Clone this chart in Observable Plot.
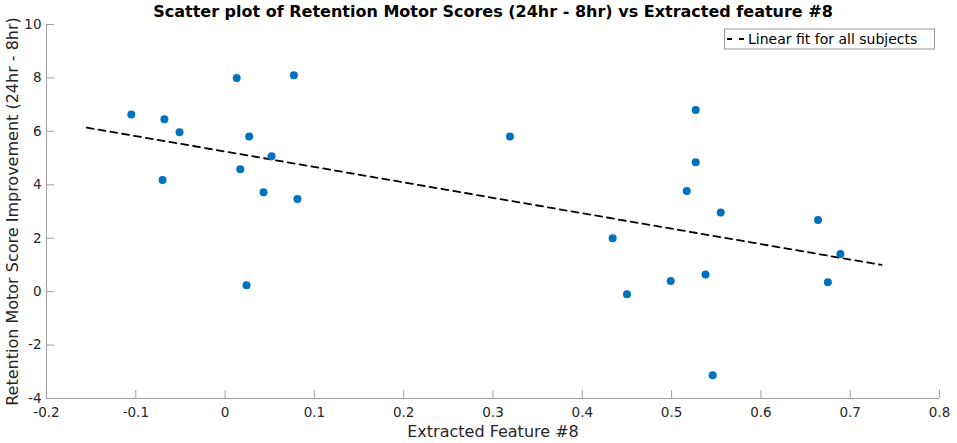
<!DOCTYPE html>
<html>
<head>
<meta charset="utf-8">
<script src="https://cdn.jsdelivr.net/npm/d3@7"></script>
<script src="https://cdn.jsdelivr.net/npm/@observablehq/plot@0.6"></script>
<style>
  html, body { margin: 0; padding: 0; background: #fff; }
  #chart svg { display: block; }
</style>
</head>
<body>
<div id="chart"></div>
<script>
// ---- data ----
const featureX = [-0.105, -0.068, -0.051, -0.070, 0.013, 0.077, 0.027, 0.052, 0.017, 0.043, 0.081, 0.024,
                  0.319,
                  0.527, 0.527, 0.517, 0.555, 0.664, 0.434, 0.689, 0.538, 0.499, 0.675, 0.450, 0.546];
const scoreY   = [6.63, 6.45, 5.97, 4.18, 8.00, 8.10, 5.81, 5.07, 4.58, 3.72, 3.47, 0.24,
                  5.81,
                  6.80, 4.84, 3.77, 2.96, 2.68, 2.00, 1.41, 0.64, 0.40, 0.35, -0.10, -3.13];
const fitX = [-0.155, 0.735];
const fitY = [6.14, 1.00];
const xTicks = [-0.2, -0.1, 0, 0.1, 0.2, 0.3, 0.4, 0.5, 0.6, 0.7, 0.8];
const yTicks = [-4, -2, 0, 2, 4, 6, 8, 10];
const titleText = "Scatter plot of Retention Motor Scores (24hr - 8hr) vs Extracted feature #8";
const xLabel = "Extracted Feature #8";
const yLabel = "Retention Motor Score Improvement (24hr - 8hr)";
const legendLabel = "Linear fit for all subjects";

const points = featureX.map((x, i) => ({x, y: scoreY[i]}));
const fit = fitX.map((x, i) => ({x, y: fitY[i]}));

const W = 957, H = 443;
const mL = 46, mR = 18, mT = 24, mB = 45;
const frameH = H - mT - mB, frameW = W - mL - mR;
const tickLen = 8;
const axisColor = "#a0a0a0";
const textColor = "#262626";
const font = "DejaVu Sans";

const chart = Plot.plot({
  width: W, height: H,
  marginLeft: mL, marginRight: mR, marginTop: mT, marginBottom: mB,
  style: {fontFamily: font, background: "#fff", overflow: "visible"},
  x: {domain: [-0.2, 0.8]},
  y: {domain: [-4, 10]},
  marks: [
    Plot.ruleY([-4], {stroke: axisColor, strokeWidth: 1}),
    Plot.ruleX([-0.2], {stroke: axisColor, strokeWidth: 1}),
    Plot.tickX(xTicks, {x: d => d, stroke: axisColor, insetTop: frameH - tickLen}),
    Plot.tickY(yTicks, {y: d => d, stroke: axisColor, insetRight: frameW - tickLen}),
    Plot.axisX(xTicks, {tickSize: 0, tickPadding: 9, tickFormat: d => String(d), fontSize: 13.5, fill: textColor, label: null}),
    Plot.axisY(yTicks, {tickSize: 0, tickPadding: 5, tickFormat: d => String(d), fontSize: 13.5, fill: textColor, label: null}),
    Plot.line(fit, {x: "x", y: "y", stroke: "#000", strokeWidth: 1.8, strokeDasharray: "7,5"}),
    Plot.dot(points, {x: "x", y: "y", r: 4, fill: "#0072BD", stroke: "none"}),
    Plot.text([xLabel], {frameAnchor: "bottom", dy: 33, lineAnchor: "middle", textAnchor: "middle", fontSize: 16, fill: textColor}),
    Plot.text([yLabel], {frameAnchor: "left", dx: -34, rotate: -90, textAnchor: "middle", lineAnchor: "middle", fontSize: 16, fill: textColor}),
    Plot.text([titleText], {frameAnchor: "top", dy: -13, lineAnchor: "middle", textAnchor: "middle", fontSize: 16, fontWeight: "bold", fill: "#000"})
  ]
});

document.getElementById("chart").appendChild(chart);

// legend box (top-right)
const svg = d3.select(chart);
const lg = svg.append("g").attr("font-family", font).attr("text-anchor", "start");
lg.append("rect").attr("x", 724.5).attr("y", 29).attr("width", 210).attr("height", 20)
  .attr("fill", "#fff").attr("stroke", "#9a9a9a").attr("stroke-width", 1);
lg.append("line").attr("x1", 727).attr("x2", 745).attr("y1", 39).attr("y2", 39)
  .attr("stroke", "#000").attr("stroke-width", 1.8).attr("stroke-dasharray", "5,7");
lg.append("text").attr("x", 748).attr("y", 39).attr("dy", "0.35em")
  .attr("font-size", 14).attr("fill", "#000").text(legendLabel);
</script>
</body>
</html>
